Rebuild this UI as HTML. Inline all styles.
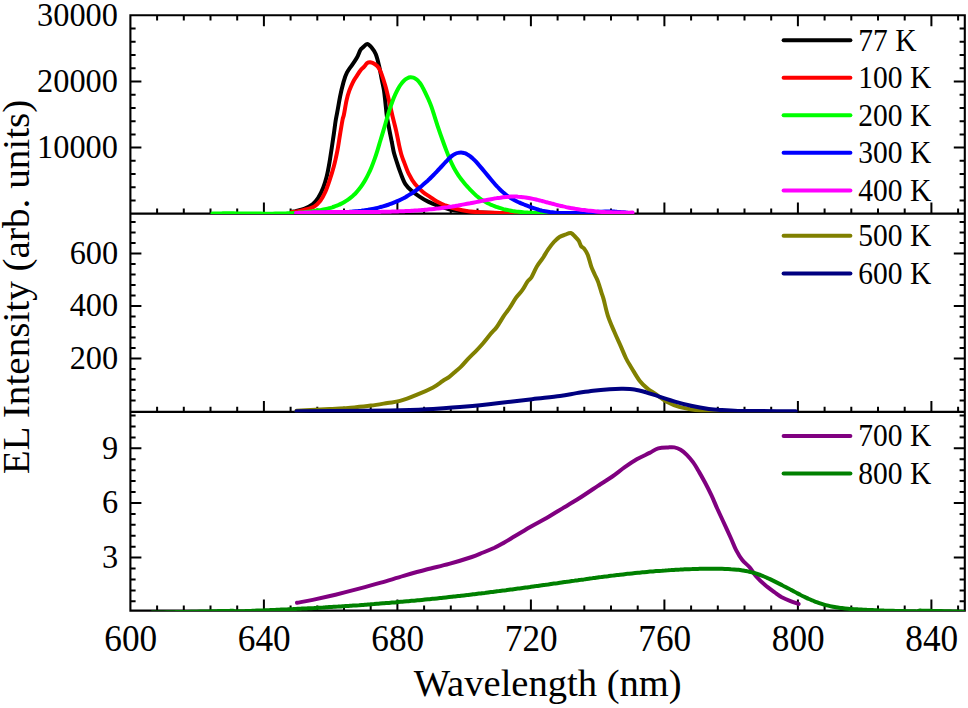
<!DOCTYPE html><html><head><meta charset="utf-8"><style>html,body{margin:0;padding:0;background:#fff;overflow:hidden}svg{display:block}text{font-family:"Liberation Serif",serif;fill:#000}</style></head><body>
<svg width="968" height="708" viewBox="0 0 968 708">
<rect width="968" height="708" fill="#fff"/>
<path d="M157.1,15.2V20.4M157.1,213.6V208.4M157.1,411.9V406.7M157.1,610.6V605.4M183.8,15.2V20.4M183.8,213.6V208.4M183.8,411.9V406.7M183.8,610.6V605.4M210.5,15.2V20.4M210.5,213.6V208.4M210.5,411.9V406.7M210.5,610.6V605.4M237.2,15.2V20.4M237.2,213.6V208.4M237.2,411.9V406.7M237.2,610.6V605.4M263.9,15.2V26.2M263.9,213.6V202.6M263.9,411.9V400.9M263.9,610.6V599.6M290.6,15.2V20.4M290.6,213.6V208.4M290.6,411.9V406.7M290.6,610.6V605.4M317.3,15.2V20.4M317.3,213.6V208.4M317.3,411.9V406.7M317.3,610.6V605.4M344.0,15.2V20.4M344.0,213.6V208.4M344.0,411.9V406.7M344.0,610.6V605.4M370.7,15.2V20.4M370.7,213.6V208.4M370.7,411.9V406.7M370.7,610.6V605.4M397.4,15.2V26.2M397.4,213.6V202.6M397.4,411.9V400.9M397.4,610.6V599.6M424.1,15.2V20.4M424.1,213.6V208.4M424.1,411.9V406.7M424.1,610.6V605.4M450.8,15.2V20.4M450.8,213.6V208.4M450.8,411.9V406.7M450.8,610.6V605.4M477.5,15.2V20.4M477.5,213.6V208.4M477.5,411.9V406.7M477.5,610.6V605.4M504.2,15.2V20.4M504.2,213.6V208.4M504.2,411.9V406.7M504.2,610.6V605.4M530.9,15.2V26.2M530.9,213.6V202.6M530.9,411.9V400.9M530.9,610.6V599.6M557.6,15.2V20.4M557.6,213.6V208.4M557.6,411.9V406.7M557.6,610.6V605.4M584.3,15.2V20.4M584.3,213.6V208.4M584.3,411.9V406.7M584.3,610.6V605.4M611.0,15.2V20.4M611.0,213.6V208.4M611.0,411.9V406.7M611.0,610.6V605.4M637.7,15.2V20.4M637.7,213.6V208.4M637.7,411.9V406.7M637.7,610.6V605.4M664.4,15.2V26.2M664.4,213.6V202.6M664.4,411.9V400.9M664.4,610.6V599.6M691.1,15.2V20.4M691.1,213.6V208.4M691.1,411.9V406.7M691.1,610.6V605.4M717.8,15.2V20.4M717.8,213.6V208.4M717.8,411.9V406.7M717.8,610.6V605.4M744.5,15.2V20.4M744.5,213.6V208.4M744.5,411.9V406.7M744.5,610.6V605.4M771.2,15.2V20.4M771.2,213.6V208.4M771.2,411.9V406.7M771.2,610.6V605.4M797.9,15.2V26.2M797.9,213.6V202.6M797.9,411.9V400.9M797.9,610.6V599.6M824.6,15.2V20.4M824.6,213.6V208.4M824.6,411.9V406.7M824.6,610.6V605.4M851.3,15.2V20.4M851.3,213.6V208.4M851.3,411.9V406.7M851.3,610.6V605.4M878.0,15.2V20.4M878.0,213.6V208.4M878.0,411.9V406.7M878.0,610.6V605.4M904.7,15.2V20.4M904.7,213.6V208.4M904.7,411.9V406.7M904.7,610.6V605.4M931.4,15.2V26.2M931.4,213.6V202.6M931.4,411.9V400.9M931.4,610.6V599.6M958.1,15.2V20.4M958.1,213.6V208.4M958.1,411.9V406.7M958.1,610.6V605.4M130.4,200.5H135.6M964.8,200.5H959.6M130.4,187.3H135.6M964.8,187.3H959.6M130.4,174.0H135.6M964.8,174.0H959.6M130.4,160.8H135.6M964.8,160.8H959.6M130.4,147.6H141.4M964.8,147.6H953.8M130.4,134.4H135.6M964.8,134.4H959.6M130.4,121.2H135.6M964.8,121.2H959.6M130.4,107.9H135.6M964.8,107.9H959.6M130.4,94.7H135.6M964.8,94.7H959.6M130.4,81.5H141.4M964.8,81.5H953.8M130.4,68.3H135.6M964.8,68.3H959.6M130.4,55.1H135.6M964.8,55.1H959.6M130.4,41.8H135.6M964.8,41.8H959.6M130.4,28.6H135.6M964.8,28.6H959.6M130.4,400.6H135.6M964.8,400.6H959.6M130.4,390.1H135.6M964.8,390.1H959.6M130.4,379.6H135.6M964.8,379.6H959.6M130.4,369.1H135.6M964.8,369.1H959.6M130.4,358.6H141.4M964.8,358.6H953.8M130.4,348.1H135.6M964.8,348.1H959.6M130.4,337.6H135.6M964.8,337.6H959.6M130.4,327.1H135.6M964.8,327.1H959.6M130.4,316.6H135.6M964.8,316.6H959.6M130.4,306.1H141.4M964.8,306.1H953.8M130.4,295.6H135.6M964.8,295.6H959.6M130.4,285.1H135.6M964.8,285.1H959.6M130.4,274.6H135.6M964.8,274.6H959.6M130.4,264.1H135.6M964.8,264.1H959.6M130.4,253.6H141.4M964.8,253.6H953.8M130.4,243.1H135.6M964.8,243.1H959.6M130.4,232.6H135.6M964.8,232.6H959.6M130.4,222.1H135.6M964.8,222.1H959.6M130.4,601.3H135.6M964.8,601.3H959.6M130.4,590.4H135.6M964.8,590.4H959.6M130.4,579.5H135.6M964.8,579.5H959.6M130.4,568.6H135.6M964.8,568.6H959.6M130.4,557.6H141.4M964.8,557.6H953.8M130.4,546.7H135.6M964.8,546.7H959.6M130.4,535.8H135.6M964.8,535.8H959.6M130.4,524.8H135.6M964.8,524.8H959.6M130.4,513.9H135.6M964.8,513.9H959.6M130.4,503.0H141.4M964.8,503.0H953.8M130.4,492.0H135.6M964.8,492.0H959.6M130.4,481.1H135.6M964.8,481.1H959.6M130.4,470.2H135.6M964.8,470.2H959.6M130.4,459.2H135.6M964.8,459.2H959.6M130.4,448.3H141.4M964.8,448.3H953.8M130.4,437.4H135.6M964.8,437.4H959.6M130.4,426.4H135.6M964.8,426.4H959.6M130.4,415.5H135.6M964.8,415.5H959.6" stroke="#000" stroke-width="2.0" fill="none"/>
<path d="M130.4,15.2H964.8V610.6H130.4Z M130.4,213.6H964.8 M130.4,411.9H964.8" stroke="#000" stroke-width="2.1" fill="none"/>
<defs>
<clipPath id="c0"><rect x="130.4" y="15.2" width="834.4" height="198.8"/></clipPath>
<clipPath id="c1"><rect x="130.4" y="213.6" width="834.4" height="198.7"/></clipPath>
<clipPath id="c2"><rect x="130.4" y="411.9" width="834.4" height="199.1"/></clipPath>
</defs>
<path d="M291.7,211.7 C292.4,211.6 293.5,211.5 295.6,211.1 C297.7,210.6 301.3,210.0 304.1,208.9 C306.9,207.8 310.2,206.3 312.6,204.4 C315.0,202.6 316.4,200.6 318.2,197.9 C320.0,195.1 321.8,191.4 323.2,187.8 C324.6,184.2 325.6,180.7 326.7,176.5 C327.8,172.3 328.7,167.1 329.5,162.4 C330.3,157.7 331.0,152.9 331.7,148.2 C332.4,143.5 333.1,138.6 333.8,134.1 C334.5,129.6 335.0,124.7 335.6,121.0 C336.2,117.3 336.6,116.0 337.3,111.9 C338.1,107.8 339.1,101.5 340.1,96.5 C341.1,91.5 342.4,86.1 343.5,82.1 C344.6,78.1 345.5,75.5 346.9,72.7 C348.3,69.9 350.3,67.6 352.0,65.1 C353.7,62.6 355.6,60.0 357.0,57.5 C358.4,55.0 359.4,51.6 360.4,49.9 C361.4,48.2 361.9,48.3 363.0,47.3 C364.1,46.3 365.8,43.9 367.2,43.9 C368.6,43.9 370.0,45.6 371.4,47.3 C372.8,49.0 374.4,51.0 375.7,54.1 C377.0,57.2 378.1,61.9 379.1,66.0 C380.1,70.1 380.8,74.6 381.6,78.7 C382.4,82.8 383.4,86.5 384.0,90.5 C384.6,94.5 384.9,98.1 385.4,102.4 C385.9,106.7 386.2,111.8 386.9,116.5 C387.6,121.2 388.7,126.3 389.5,130.6 C390.3,134.8 391.1,138.3 391.8,142.0 C392.6,145.7 393.1,149.6 394.0,153.0 C394.9,156.4 395.9,159.1 397.0,162.6 C398.1,166.1 399.5,170.3 400.9,173.9 C402.3,177.5 403.6,181.3 405.4,184.1 C407.2,186.9 409.2,188.7 411.6,190.8 C414.0,192.9 416.7,194.8 419.5,196.6 C422.3,198.5 425.4,200.4 428.6,201.9 C431.8,203.5 435.2,204.7 438.8,206.0 C442.4,207.2 446.3,208.6 450.1,209.5 C453.9,210.4 456.4,210.8 461.4,211.3 C466.4,211.8 470.2,212.2 480.0,212.5 C489.8,212.9 494.7,213.2 520.0,213.4 C545.3,213.5 613.3,213.5 632.0,213.6" stroke="#000000" fill="none" stroke-width="4.0" stroke-linejoin="round" stroke-linecap="round" clip-path="url(#c0)"/>
<path d="M291.7,211.9 C292.4,211.9 293.5,212.1 295.6,211.8 C297.7,211.5 301.0,210.8 304.1,209.9 C307.2,209.1 311.3,208.2 314.0,206.7 C316.7,205.2 318.5,203.2 320.4,200.8 C322.3,198.3 323.8,195.3 325.3,192.0 C326.8,188.7 328.1,184.9 329.5,180.7 C330.9,176.5 332.5,171.5 333.8,166.6 C335.1,161.7 336.2,156.5 337.3,151.1 C338.4,145.7 339.2,139.3 340.1,134.1 C341.0,128.9 341.9,123.2 342.5,120.0 C343.1,116.8 343.2,117.9 343.9,114.7 C344.6,111.5 345.6,104.6 346.5,100.6 C347.4,96.6 348.2,93.8 349.3,90.7 C350.4,87.7 351.7,84.7 352.9,82.3 C354.1,79.9 355.1,78.6 356.4,76.6 C357.7,74.6 359.3,71.9 360.6,70.3 C361.9,68.7 363.1,67.9 364.2,66.7 C365.3,65.5 366.0,63.9 367.0,63.2 C368.0,62.5 369.0,62.1 370.3,62.3 C371.6,62.5 373.6,63.3 375.0,64.2 C376.4,65.1 377.4,65.9 378.5,67.5 C379.6,69.1 380.4,70.8 381.5,73.9 C382.6,77.0 384.1,81.5 385.4,86.0 C386.7,90.5 387.9,95.9 389.1,101.0 C390.3,106.1 391.4,111.6 392.6,116.5 C393.8,121.4 395.0,125.9 396.1,130.6 C397.2,135.3 398.1,140.6 399.0,144.7 C399.9,148.8 400.6,152.0 401.5,155.0 C402.4,158.0 403.1,159.4 404.3,162.6 C405.5,165.8 407.0,170.3 408.8,173.9 C410.6,177.5 412.6,181.1 415.0,184.1 C417.4,187.1 420.4,189.9 422.9,192.0 C425.3,194.1 427.4,195.1 429.7,196.6 C432.0,198.2 433.9,199.8 436.5,201.3 C439.1,202.8 442.1,204.2 445.5,205.5 C448.9,206.7 453.0,208.0 456.8,209.0 C460.6,210.0 464.2,210.7 468.1,211.3 C472.0,211.8 474.7,212.0 480.0,212.3 C485.3,212.6 493.2,212.8 500.0,212.9 C506.8,213.1 498.8,213.3 520.8,213.4 C542.8,213.5 613.5,213.5 632.0,213.6" stroke="#ff0000" fill="none" stroke-width="4.0" stroke-linejoin="round" stroke-linecap="round" clip-path="url(#c0)"/>
<path d="M212.4,213.6 C212.9,213.6 214.4,213.5 215.4,213.5 C216.4,213.5 217.4,213.4 218.4,213.4 C219.4,213.4 220.4,213.4 221.4,213.4 C222.4,213.4 223.4,213.3 224.4,213.3 C225.4,213.3 226.4,213.3 227.4,213.3 C228.4,213.3 229.4,213.3 230.4,213.3 C231.4,213.3 232.4,213.3 233.4,213.3 C234.4,213.3 235.4,213.3 236.4,213.4 C237.4,213.4 238.4,213.4 239.4,213.4 C240.4,213.4 241.4,213.4 242.4,213.4 C243.4,213.4 244.4,213.4 245.4,213.5 C246.4,213.5 247.4,213.5 248.4,213.5 C249.4,213.5 250.4,213.5 251.4,213.5 C252.4,213.6 253.4,213.6 254.4,213.6 C255.4,213.6 256.4,213.6 257.4,213.6 C258.4,213.6 259.4,213.6 260.4,213.6 C261.4,213.7 262.4,213.7 263.4,213.7 C264.4,213.7 265.4,213.7 266.4,213.7 C267.4,213.7 268.4,213.7 269.4,213.7 C270.4,213.7 271.4,213.7 272.4,213.7 C273.4,213.7 274.4,213.7 275.4,213.6 C276.4,213.6 277.4,213.6 278.4,213.6 C279.4,213.6 280.4,213.6 281.4,213.5 C282.4,213.5 283.4,213.5 284.4,213.5 C285.4,213.4 286.4,213.4 287.4,213.3 C288.4,213.3 289.4,213.3 290.4,213.2 C291.4,213.2 292.4,213.1 293.4,213.1 C294.4,213.0 295.4,212.9 296.4,212.9 C297.4,212.8 298.4,212.7 299.4,212.6 C300.4,212.6 301.4,212.5 302.4,212.4 C303.4,212.3 304.4,212.2 305.4,212.1 C306.4,212.0 307.4,211.9 308.4,211.8 C309.4,211.7 310.4,211.5 311.4,211.4 C312.4,211.3 313.4,211.2 314.4,211.0 C315.4,210.9 316.4,210.7 317.4,210.6 C318.4,210.4 319.4,210.3 320.4,210.1 C321.4,209.9 322.4,209.7 323.4,209.5 C324.4,209.3 325.4,209.1 326.4,208.9 C327.4,208.7 328.4,208.4 329.4,208.1 C330.4,207.9 331.4,207.6 332.4,207.3 C333.4,206.9 334.4,206.6 335.4,206.2 C336.4,205.9 337.4,205.5 338.4,205.0 C339.4,204.6 340.4,204.1 341.4,203.6 C342.4,203.1 343.4,202.6 344.4,202.0 C345.4,201.4 346.4,200.8 347.4,200.1 C348.4,199.4 349.4,198.7 350.4,197.9 C351.4,197.1 352.4,196.3 353.4,195.3 C354.4,194.4 355.4,193.4 356.4,192.3 C357.4,191.2 358.4,190.1 359.4,188.8 C360.4,187.6 361.4,186.2 362.4,184.7 C363.4,183.2 364.4,181.6 365.4,179.8 C366.4,178.0 367.4,176.1 368.4,174.0 C369.4,172.0 370.4,169.8 371.4,167.4 C372.4,165.0 373.4,162.5 374.4,159.7 C375.4,156.9 376.4,153.8 377.4,150.6 C378.4,147.4 379.4,143.8 380.4,140.5 C381.4,137.1 382.4,134.0 383.4,130.6 C384.4,127.3 385.4,123.7 386.4,120.3 C387.4,116.9 388.4,113.3 389.4,110.2 C390.4,107.1 391.4,104.2 392.4,101.5 C393.4,98.8 394.4,96.4 395.4,94.2 C396.4,91.9 397.4,90.0 398.4,88.2 C399.4,86.4 400.4,84.9 401.4,83.6 C402.4,82.2 403.4,81.1 404.4,80.2 C405.4,79.3 406.4,78.7 407.4,78.2 C408.4,77.7 409.4,77.4 410.4,77.3 C411.4,77.2 412.4,77.4 413.4,77.7 C414.4,78.0 415.4,78.6 416.4,79.3 C417.4,80.1 418.4,81.1 419.4,82.4 C420.4,83.6 421.4,85.1 422.4,86.9 C423.4,88.6 424.4,90.7 425.4,92.8 C426.4,94.9 427.4,97.0 428.4,99.3 C429.4,101.6 430.4,103.9 431.4,106.7 C432.4,109.5 433.4,112.8 434.4,115.9 C435.4,119.0 436.4,122.2 437.4,125.3 C438.4,128.3 439.4,131.2 440.4,134.1 C441.4,136.9 442.4,139.7 443.4,142.5 C444.4,145.3 445.4,148.0 446.4,150.6 C447.4,153.2 448.4,155.8 449.4,158.2 C450.4,160.6 451.4,162.8 452.4,164.9 C453.4,167.0 454.4,168.9 455.4,170.6 C456.4,172.3 457.4,173.9 458.4,175.4 C459.4,176.9 460.4,178.2 461.4,179.5 C462.4,180.8 463.4,182.0 464.4,183.2 C465.4,184.4 466.4,185.5 467.4,186.6 C468.4,187.7 469.4,188.8 470.4,189.9 C471.4,190.9 472.4,191.9 473.4,192.9 C474.4,193.9 475.4,194.8 476.4,195.7 C477.4,196.5 478.4,197.3 479.4,198.1 C480.4,198.8 481.4,199.5 482.4,200.1 C483.4,200.7 484.4,201.3 485.4,201.9 C486.4,202.4 487.4,203.0 488.4,203.5 C489.4,204.0 490.4,204.4 491.4,204.9 C492.4,205.3 493.4,205.7 494.4,206.1 C495.4,206.5 496.4,206.9 497.4,207.2 C498.4,207.6 499.4,207.9 500.4,208.2 C501.4,208.5 502.4,208.8 503.4,209.1 C504.4,209.3 505.4,209.6 506.4,209.8 C507.4,210.0 508.4,210.2 509.4,210.4 C510.4,210.6 511.4,210.8 512.4,211.0 C513.4,211.1 514.4,211.3 515.4,211.4 C516.4,211.6 517.4,211.7 518.4,211.8 C519.4,211.9 520.4,212.0 521.4,212.1 C522.4,212.2 523.4,212.3 524.4,212.4 C525.4,212.5 526.4,212.5 527.4,212.6 C528.4,212.7 529.4,212.7 530.4,212.8 C531.4,212.8 532.4,212.9 533.4,212.9 C534.4,213.0 535.4,213.0 536.4,213.1 C537.4,213.1 538.4,213.2 539.4,213.2 C540.4,213.3 541.4,213.3 542.4,213.4 C543.4,213.4 544.4,213.5 545.4,213.5 C546.4,213.6 547.7,213.7 548.4,213.7 C549.1,213.8 549.2,213.8 549.4,213.8" stroke="#00ff00" fill="none" stroke-width="4.0" stroke-linejoin="round" stroke-linecap="round" clip-path="url(#c0)"/>
<path d="M296.0,213.6 C296.5,213.6 298.0,213.5 299.0,213.4 C300.0,213.3 301.0,213.3 302.0,213.2 C303.0,213.2 304.0,213.1 305.0,213.1 C306.0,213.0 307.0,213.0 308.0,213.0 C309.0,212.9 310.0,212.9 311.0,212.9 C312.0,212.9 313.0,212.8 314.0,212.8 C315.0,212.8 316.0,212.8 317.0,212.7 C318.0,212.7 319.0,212.7 320.0,212.7 C321.0,212.7 322.0,212.7 323.0,212.7 C324.0,212.6 325.0,212.6 326.0,212.6 C327.0,212.6 328.0,212.6 329.0,212.6 C330.0,212.5 331.0,212.5 332.0,212.5 C333.0,212.5 334.0,212.5 335.0,212.4 C336.0,212.4 337.0,212.4 338.0,212.4 C339.0,212.3 340.0,212.3 341.0,212.3 C342.0,212.2 343.0,212.2 344.0,212.1 C345.0,212.1 346.0,212.0 347.0,212.0 C348.0,211.9 349.0,211.9 350.0,211.8 C351.0,211.7 352.0,211.7 353.0,211.6 C354.0,211.5 355.0,211.4 356.0,211.3 C357.0,211.2 358.0,211.1 359.0,211.0 C360.0,210.9 361.0,210.8 362.0,210.6 C363.0,210.5 364.0,210.4 365.0,210.2 C366.0,210.1 367.0,209.9 368.0,209.8 C369.0,209.6 370.0,209.4 371.0,209.2 C372.0,209.0 373.0,208.8 374.0,208.6 C375.0,208.4 376.0,208.2 377.0,208.0 C378.0,207.7 379.0,207.5 380.0,207.2 C381.0,206.9 382.0,206.7 383.0,206.4 C384.0,206.1 385.0,205.8 386.0,205.5 C387.0,205.2 388.0,204.8 389.0,204.5 C390.0,204.1 391.0,203.8 392.0,203.4 C393.0,203.0 394.0,202.6 395.0,202.2 C396.0,201.8 397.0,201.4 398.0,200.9 C399.0,200.5 400.0,200.0 401.0,199.5 C402.0,199.0 403.0,198.5 404.0,198.0 C405.0,197.4 406.0,196.9 407.0,196.3 C408.0,195.7 409.0,195.1 410.0,194.4 C411.0,193.8 412.0,193.1 413.0,192.5 C414.0,191.8 415.0,191.1 416.0,190.4 C417.0,189.7 418.0,188.9 419.0,188.1 C420.0,187.3 421.0,186.5 422.0,185.7 C423.0,184.9 424.0,184.0 425.0,183.1 C426.0,182.2 427.0,181.3 428.0,180.4 C429.0,179.4 430.0,178.5 431.0,177.5 C432.0,176.5 433.0,175.5 434.0,174.5 C435.0,173.4 436.0,172.4 437.0,171.3 C438.0,170.3 439.0,169.2 440.0,168.1 C441.0,167.0 442.0,166.0 443.0,164.9 C444.0,163.8 445.0,162.7 446.0,161.6 C447.0,160.6 448.0,159.5 449.0,158.5 C450.0,157.6 451.0,156.7 452.0,155.9 C453.0,155.1 454.0,154.5 455.0,154.0 C456.0,153.5 457.0,153.1 458.0,152.9 C459.0,152.6 460.0,152.5 461.0,152.5 C462.0,152.5 463.0,152.7 464.0,153.0 C465.0,153.2 466.0,153.6 467.0,154.2 C468.0,154.7 469.0,155.4 470.0,156.1 C471.0,156.9 472.0,157.7 473.0,158.7 C474.0,159.6 475.0,160.6 476.0,161.7 C477.0,162.8 478.0,163.9 479.0,165.1 C480.0,166.2 481.0,167.4 482.0,168.6 C483.0,169.8 484.0,171.0 485.0,172.2 C486.0,173.5 487.0,174.7 488.0,175.9 C489.0,177.1 490.0,178.3 491.0,179.5 C492.0,180.7 493.0,181.9 494.0,183.0 C495.0,184.2 496.0,185.3 497.0,186.4 C498.0,187.4 499.0,188.5 500.0,189.5 C501.0,190.5 502.0,191.4 503.0,192.3 C504.0,193.1 505.0,194.0 506.0,194.7 C507.0,195.5 508.0,196.3 509.0,196.9 C510.0,197.6 511.0,198.2 512.0,198.8 C513.0,199.4 514.0,200.0 515.0,200.5 C516.0,201.0 517.0,201.5 518.0,202.0 C519.0,202.4 520.0,202.9 521.0,203.3 C522.0,203.7 523.0,204.1 524.0,204.5 C525.0,204.9 526.0,205.3 527.0,205.7 C528.0,206.1 529.0,206.5 530.0,206.9 C531.0,207.3 532.0,207.6 533.0,208.0 C534.0,208.3 535.0,208.6 536.0,208.9 C537.0,209.3 538.0,209.5 539.0,209.8 C540.0,210.1 541.0,210.3 542.0,210.6 C543.0,210.8 544.0,211.0 545.0,211.2 C546.0,211.4 547.0,211.6 548.0,211.7 C549.0,211.9 550.0,212.0 551.0,212.2 C552.0,212.3 553.0,212.4 554.0,212.5 C555.0,212.6 556.0,212.7 557.0,212.8 C558.0,212.9 559.0,212.9 560.0,213.0 C561.0,213.0 562.0,213.1 563.0,213.1 C564.0,213.1 565.0,213.1 566.0,213.1 C567.0,213.1 568.0,213.1 569.0,213.1 C570.0,213.1 571.0,213.1 572.0,213.1 C573.0,213.1 574.0,213.0 575.0,213.0 C576.0,213.0 577.0,212.9 578.0,212.9 C579.0,212.8 580.0,212.8 581.0,212.7 C582.0,212.7 583.0,212.6 584.0,212.6 C585.0,212.5 586.0,212.5 587.0,212.4 C588.0,212.4 589.0,212.3 590.0,212.2 C591.0,212.2 592.0,212.1 593.0,212.1 C594.0,212.0 595.0,212.0 596.0,211.9 C597.0,211.9 598.0,211.8 599.0,211.8 C600.0,211.7 601.0,211.7 602.0,211.7 C603.0,211.6 604.0,211.6 605.0,211.6 C606.0,211.6 607.0,211.6 608.0,211.6 C609.0,211.6 610.0,211.6 611.0,211.6 C612.0,211.6 613.0,211.6 614.0,211.6 C615.0,211.7 616.0,211.7 617.0,211.8 C618.0,211.8 619.0,211.9 620.0,212.0 C621.0,212.1 622.0,212.2 623.0,212.3 C624.0,212.4 625.0,212.5 626.0,212.6 C627.0,212.8 628.0,212.9 629.0,213.1 C630.0,213.3 631.5,213.6 632.0,213.7" stroke="#0000ff" fill="none" stroke-width="4.0" stroke-linejoin="round" stroke-linecap="round" clip-path="url(#c0)"/>
<path d="M296.1,213.0 C296.6,212.9 298.1,212.9 299.1,212.8 C300.1,212.8 301.1,212.7 302.1,212.7 C303.1,212.7 304.1,212.6 305.1,212.6 C306.1,212.6 307.1,212.5 308.1,212.5 C309.1,212.5 310.1,212.4 311.1,212.4 C312.1,212.4 313.1,212.4 314.1,212.3 C315.1,212.3 316.1,212.3 317.1,212.3 C318.1,212.3 319.1,212.3 320.1,212.2 C321.1,212.2 322.1,212.2 323.1,212.2 C324.1,212.2 325.1,212.2 326.1,212.2 C327.1,212.1 328.1,212.1 329.1,212.1 C330.1,212.1 331.1,212.1 332.1,212.1 C333.1,212.1 334.1,212.1 335.1,212.1 C336.1,212.1 337.1,212.1 338.1,212.1 C339.1,212.1 340.1,212.1 341.1,212.1 C342.1,212.1 343.1,212.1 344.1,212.1 C345.1,212.1 346.1,212.1 347.1,212.1 C348.1,212.1 349.1,212.0 350.1,212.0 C351.1,212.0 352.1,212.0 353.1,212.0 C354.1,212.0 355.1,212.0 356.1,212.0 C357.1,212.0 358.1,212.0 359.1,212.0 C360.1,212.0 361.1,212.0 362.1,212.0 C363.1,212.0 364.1,212.0 365.1,212.0 C366.1,212.0 367.1,212.0 368.1,212.0 C369.1,212.0 370.1,212.0 371.1,212.0 C372.1,212.0 373.1,212.0 374.1,211.9 C375.1,211.9 376.1,211.9 377.1,211.9 C378.1,211.9 379.1,211.9 380.1,211.9 C381.1,211.9 382.1,211.8 383.1,211.8 C384.1,211.8 385.1,211.8 386.1,211.8 C387.1,211.7 388.1,211.7 389.1,211.7 C390.1,211.7 391.1,211.6 392.1,211.6 C393.1,211.6 394.1,211.6 395.1,211.5 C396.1,211.5 397.1,211.5 398.1,211.4 C399.1,211.4 400.1,211.3 401.1,211.3 C402.1,211.3 403.1,211.2 404.1,211.2 C405.1,211.1 406.1,211.1 407.1,211.0 C408.1,211.0 409.1,210.9 410.1,210.9 C411.1,210.8 412.1,210.8 413.1,210.7 C414.1,210.6 415.1,210.6 416.1,210.5 C417.1,210.4 418.1,210.4 419.1,210.3 C420.1,210.2 421.1,210.1 422.1,210.0 C423.1,210.0 424.1,209.9 425.1,209.8 C426.1,209.7 427.1,209.6 428.1,209.5 C429.1,209.4 430.1,209.3 431.1,209.2 C432.1,209.1 433.1,209.0 434.1,208.9 C435.1,208.8 436.1,208.7 437.1,208.6 C438.1,208.4 439.1,208.3 440.1,208.2 C441.1,208.1 442.1,207.9 443.1,207.8 C444.1,207.7 445.1,207.5 446.1,207.4 C447.1,207.2 448.1,207.1 449.1,206.9 C450.1,206.8 451.1,206.6 452.1,206.5 C453.1,206.3 454.1,206.1 455.1,206.0 C456.1,205.8 457.1,205.6 458.1,205.5 C459.1,205.3 460.1,205.1 461.1,204.9 C462.1,204.8 463.1,204.6 464.1,204.4 C465.1,204.2 466.1,204.0 467.1,203.8 C468.1,203.6 469.1,203.4 470.1,203.3 C471.1,203.1 472.1,202.9 473.1,202.7 C474.1,202.5 475.1,202.3 476.1,202.1 C477.1,201.9 478.1,201.7 479.1,201.5 C480.1,201.3 481.1,201.1 482.1,200.9 C483.1,200.7 484.1,200.5 485.1,200.3 C486.1,200.1 487.1,200.0 488.1,199.8 C489.1,199.6 490.1,199.4 491.1,199.2 C492.1,199.0 493.1,198.8 494.1,198.6 C495.1,198.5 496.1,198.3 497.1,198.1 C498.1,198.0 499.1,197.8 500.1,197.7 C501.1,197.5 502.1,197.4 503.1,197.2 C504.1,197.1 505.1,197.0 506.1,196.9 C507.1,196.8 508.1,196.7 509.1,196.7 C510.1,196.6 511.1,196.6 512.1,196.5 C513.1,196.5 514.1,196.5 515.1,196.5 C516.1,196.6 517.1,196.6 518.1,196.7 C519.1,196.7 520.1,196.8 521.1,196.9 C522.1,197.0 523.1,197.1 524.1,197.3 C525.1,197.4 526.1,197.6 527.1,197.7 C528.1,197.9 529.1,198.1 530.1,198.3 C531.1,198.5 532.1,198.7 533.1,198.9 C534.1,199.1 535.1,199.3 536.1,199.5 C537.1,199.8 538.1,200.0 539.1,200.3 C540.1,200.5 541.1,200.8 542.1,201.0 C543.1,201.3 544.1,201.5 545.1,201.8 C546.1,202.1 547.1,202.3 548.1,202.6 C549.1,202.9 550.1,203.1 551.1,203.4 C552.1,203.7 553.1,203.9 554.1,204.2 C555.1,204.5 556.1,204.7 557.1,205.0 C558.1,205.2 559.1,205.5 560.1,205.7 C561.1,205.9 562.1,206.2 563.1,206.4 C564.1,206.6 565.1,206.8 566.1,207.1 C567.1,207.3 568.1,207.5 569.1,207.7 C570.1,207.9 571.1,208.0 572.1,208.2 C573.1,208.4 574.1,208.6 575.1,208.8 C576.1,208.9 577.1,209.1 578.1,209.2 C579.1,209.4 580.1,209.5 581.1,209.7 C582.1,209.8 583.1,210.0 584.1,210.1 C585.1,210.2 586.1,210.4 587.1,210.5 C588.1,210.6 589.1,210.7 590.1,210.8 C591.1,210.9 592.1,211.0 593.1,211.1 C594.1,211.2 595.1,211.3 596.1,211.4 C597.1,211.5 598.1,211.6 599.1,211.7 C600.1,211.7 601.1,211.8 602.1,211.9 C603.1,211.9 604.1,212.0 605.1,212.1 C606.1,212.1 607.1,212.2 608.1,212.2 C609.1,212.3 610.1,212.3 611.1,212.3 C612.1,212.4 613.1,212.4 614.1,212.5 C615.1,212.5 616.1,212.5 617.1,212.5 C618.1,212.6 619.1,212.6 620.1,212.6 C621.1,212.6 622.1,212.6 623.1,212.6 C624.1,212.6 625.1,212.7 626.1,212.7 C627.1,212.7 628.1,212.7 629.1,212.7 C630.1,212.6 631.5,212.6 632.1,212.6 C632.7,212.6 632.5,212.6 632.6,212.6" stroke="#ff00ff" fill="none" stroke-width="4.0" stroke-linejoin="round" stroke-linecap="round" clip-path="url(#c0)"/>
<path d="M296.5,410.8 C302.0,410.5 320.0,409.6 329.6,409.1 C339.2,408.5 347.5,408.0 354.4,407.4 C361.3,406.8 365.4,406.4 370.9,405.6 C376.4,404.9 382.5,403.8 387.4,403.0 C392.2,402.2 395.1,402.3 400.0,400.9 C404.9,399.6 411.0,397.2 416.5,394.9 C422.0,392.7 428.7,389.7 433.1,387.4 C437.5,385.1 439.9,382.8 442.7,381.0 C445.4,379.2 447.5,378.2 449.6,376.6 C451.7,375.0 453.6,373.2 455.5,371.5 C457.4,369.8 459.3,368.4 461.3,366.4 C463.3,364.4 465.3,361.8 467.6,359.4 C469.9,357.0 472.6,354.4 475.2,351.8 C477.8,349.2 480.3,346.5 482.9,343.5 C485.4,340.5 488.2,336.8 490.5,334.0 C492.8,331.2 494.7,329.9 496.8,327.0 C498.9,324.1 501.1,320.0 503.2,316.8 C505.3,313.6 507.5,311.2 509.6,308.0 C511.7,304.8 513.8,300.8 515.9,297.8 C518.0,294.8 520.4,292.9 522.3,290.2 C524.2,287.5 525.8,284.1 527.3,281.9 C528.8,279.7 529.9,279.8 531.5,277.2 C533.1,274.6 535.1,269.4 537.0,266.3 C538.9,263.2 540.7,261.2 542.6,258.4 C544.5,255.6 546.3,252.1 548.2,249.4 C550.1,246.7 552.0,244.1 553.9,242.0 C555.8,239.9 557.6,238.2 559.5,237.0 C561.4,235.8 563.3,235.4 565.2,234.7 C567.1,234.0 569.1,232.6 570.8,233.0 C572.5,233.4 574.1,235.7 575.4,237.0 C576.7,238.3 577.9,239.4 578.8,240.9 C579.7,242.4 580.1,244.7 581.0,246.0 C581.9,247.3 583.3,247.5 584.4,249.0 C585.5,250.5 586.7,252.1 587.8,255.0 C588.9,257.9 590.1,263.1 591.2,266.3 C592.3,269.5 593.5,271.6 594.6,274.2 C595.7,276.8 596.9,278.6 598.0,281.6 C599.1,284.6 600.5,289.4 601.4,292.3 C602.3,295.2 602.5,295.2 603.6,299.1 C604.7,303.0 606.1,310.4 607.9,315.8 C609.7,321.2 612.1,326.6 614.2,331.6 C616.3,336.6 618.6,341.4 620.6,345.9 C622.6,350.4 624.3,354.8 626.1,358.5 C627.9,362.2 629.4,364.3 631.6,368.0 C633.9,371.7 637.0,377.3 639.6,380.7 C642.2,384.1 644.9,386.4 647.5,388.6 C650.1,390.8 652.2,391.7 655.4,393.9 C658.6,396.1 662.5,399.5 666.5,401.7 C670.5,403.8 673.5,405.4 679.1,406.9 C684.7,408.4 693.2,409.9 700.0,410.7 C706.8,411.6 704.2,411.8 720.0,412.1 C735.8,412.4 782.5,412.3 795.0,412.4" stroke="#808000" fill="none" stroke-width="4.0" stroke-linejoin="round" stroke-linecap="round" clip-path="url(#c1)"/>
<path d="M296.5,411.3 C307.5,411.3 345.4,411.0 362.6,410.8 C379.9,410.6 388.2,410.5 400.0,410.2 C411.8,409.9 422.1,409.6 433.1,409.0 C444.1,408.3 455.1,407.6 466.1,406.6 C477.1,405.6 488.2,404.3 499.2,403.0 C510.2,401.8 522.1,400.4 532.2,399.2 C542.3,398.0 552.6,397.0 560.0,396.0 C567.4,395.0 571.0,394.0 576.5,393.1 C582.0,392.3 587.6,391.4 593.1,390.7 C598.6,390.0 604.9,389.5 609.6,389.2 C614.3,388.9 617.1,388.8 621.2,388.8 C625.3,388.9 630.3,388.9 634.4,389.5 C638.5,390.1 641.9,391.1 646.0,392.3 C650.1,393.5 654.2,395.0 659.2,396.6 C664.2,398.2 670.2,400.2 675.7,401.8 C681.2,403.4 686.7,404.8 692.2,406.0 C697.7,407.2 704.2,408.3 708.8,409.0 C713.4,409.6 715.1,409.7 720.0,410.0 C724.9,410.3 730.8,410.7 737.9,410.9 C745.0,411.1 753.0,411.1 762.6,411.1 C772.2,411.2 790.2,411.2 795.7,411.2" stroke="#000080" fill="none" stroke-width="4.0" stroke-linejoin="round" stroke-linecap="round" clip-path="url(#c1)"/>
<path d="M297.0,602.8 C299.6,602.3 306.3,601.2 312.7,599.9 C319.1,598.5 327.9,596.5 335.5,594.7 C343.1,592.8 350.6,590.9 358.2,588.9 C365.8,586.9 373.3,584.9 380.9,582.7 C388.5,580.5 396.0,578.1 403.6,575.9 C411.2,573.7 418.8,571.5 426.4,569.5 C434.0,567.5 441.5,566.0 449.1,563.9 C456.7,561.8 466.1,558.9 471.8,557.0 C477.5,555.1 479.4,554.0 483.2,552.5 C487.0,551.0 491.4,549.2 494.5,547.8 C497.6,546.3 498.5,545.8 502.0,543.8 C505.5,541.8 510.6,538.7 515.5,535.8 C520.4,532.9 525.9,529.5 531.1,526.5 C536.3,523.5 541.4,521.0 546.6,518.0 C551.8,515.0 556.9,511.7 562.1,508.6 C567.3,505.5 572.4,502.6 577.6,499.3 C582.8,496.0 589.5,491.5 593.2,489.0 C596.9,486.5 596.8,486.6 600.0,484.5 C603.2,482.4 608.3,479.4 612.4,476.5 C616.5,473.6 620.7,470.1 624.8,467.2 C628.9,464.3 633.1,461.5 637.2,459.1 C641.3,456.7 646.1,454.7 649.6,452.9 C653.1,451.1 655.2,449.2 658.3,448.3 C661.4,447.4 665.5,447.5 668.2,447.4 C670.9,447.2 672.3,447.0 674.4,447.4 C676.5,447.8 678.5,448.6 680.6,449.8 C682.7,451.0 684.7,452.7 686.8,454.8 C688.9,456.9 690.9,459.3 693.0,462.2 C695.1,465.1 697.1,468.6 699.2,472.1 C701.3,475.6 703.3,479.4 705.4,483.3 C707.5,487.2 709.6,491.5 711.6,495.7 C713.6,499.9 715.2,504.1 717.1,508.3 C719.0,512.5 720.7,516.0 723.0,521.0 C725.3,526.0 728.6,533.2 730.8,538.0 C733.0,542.8 734.1,546.3 736.0,549.9 C737.9,553.5 739.8,556.9 742.1,559.8 C744.4,562.7 747.3,564.6 749.6,567.3 C751.9,570.0 753.3,573.1 755.8,576.0 C758.3,578.9 761.4,581.9 764.5,584.6 C767.6,587.3 771.5,590.1 774.4,592.2 C777.3,594.3 779.1,595.8 781.8,597.3 C784.5,598.7 787.7,600.0 790.5,601.1 C793.3,602.2 797.2,603.5 798.6,604.0" stroke="#800080" fill="none" stroke-width="4.0" stroke-linejoin="round" stroke-linecap="round" clip-path="url(#c2)"/>
<path d="M152.0,612.6 C152.5,612.6 154.0,612.5 155.0,612.5 C156.0,612.5 157.0,612.5 158.0,612.5 C159.0,612.4 160.0,612.4 161.0,612.4 C162.0,612.4 163.0,612.4 164.0,612.4 C165.0,612.3 166.0,612.3 167.0,612.3 C168.0,612.3 169.0,612.3 170.0,612.2 C171.0,612.2 172.0,612.2 173.0,612.2 C174.0,612.2 175.0,612.1 176.0,612.1 C177.0,612.1 178.0,612.1 179.0,612.1 C180.0,612.0 181.0,612.0 182.0,612.0 C183.0,612.0 184.0,612.0 185.0,611.9 C186.0,611.9 187.0,611.9 188.0,611.9 C189.0,611.8 190.0,611.8 191.0,611.8 C192.0,611.8 193.0,611.8 194.0,611.7 C195.0,611.7 196.0,611.7 197.0,611.7 C198.0,611.6 199.0,611.6 200.0,611.6 C201.0,611.6 202.0,611.5 203.0,611.5 C204.0,611.5 205.0,611.5 206.0,611.4 C207.0,611.4 208.0,611.4 209.0,611.4 C210.0,611.3 211.0,611.3 212.0,611.3 C213.0,611.3 214.0,611.2 215.0,611.2 C216.0,611.2 217.0,611.1 218.0,611.1 C219.0,611.1 220.0,611.1 221.0,611.0 C222.0,611.0 223.0,611.0 224.0,610.9 C225.0,610.9 226.0,610.9 227.0,610.9 C228.0,610.8 229.0,610.8 230.0,610.8 C231.0,610.7 232.0,610.6 233.0,610.7 C234.0,610.8 235.0,611.3 236.0,611.4 C237.0,611.5 238.0,611.3 239.0,611.3 C240.0,611.2 241.0,611.2 242.0,611.2 C243.0,611.1 244.0,611.1 245.0,611.1 C246.0,611.0 247.0,611.0 248.0,611.0 C249.0,610.9 250.0,610.9 251.0,610.9 C252.0,610.8 253.0,610.8 254.0,610.7 C255.0,610.7 256.0,610.7 257.0,610.6 C258.0,610.6 259.0,610.6 260.0,610.5 C261.0,610.5 262.0,610.4 263.0,610.4 C264.0,610.4 265.0,610.3 266.0,610.3 C267.0,610.2 268.0,610.2 269.0,610.2 C270.0,610.1 271.0,610.1 272.0,610.0 C273.0,610.0 274.0,609.9 275.0,609.9 C276.0,609.9 277.0,609.8 278.0,609.8 C279.0,609.7 280.0,609.7 281.0,609.6 C282.0,609.6 283.0,609.5 284.0,609.5 C285.0,609.5 286.0,609.4 287.0,609.4 C288.0,609.3 289.0,609.3 290.0,609.2 C291.0,609.2 292.0,609.1 293.0,609.1 C294.0,609.0 295.0,609.0 296.0,608.9 C297.0,608.9 298.0,608.8 299.0,608.8 C300.0,608.7 301.0,608.7 302.0,608.6 C303.0,608.6 304.0,608.5 305.0,608.5 C306.0,608.4 307.0,608.4 308.0,608.3 C309.0,608.3 310.0,608.2 311.0,608.2 C312.0,608.1 313.0,608.0 314.0,608.0 C315.0,607.9 316.0,607.9 317.0,607.8 C318.0,607.8 319.0,607.7 320.0,607.7 C321.0,607.6 322.0,607.5 323.0,607.5 C324.0,607.4 325.0,607.4 326.0,607.3 C327.0,607.2 328.0,607.2 329.0,607.1 C330.0,607.1 331.0,607.0 332.0,606.9 C333.0,606.9 334.0,606.8 335.0,606.8 C336.0,606.7 337.0,606.6 338.0,606.6 C339.0,606.5 340.0,606.4 341.0,606.4 C342.0,606.3 343.0,606.3 344.0,606.2 C345.0,606.1 346.0,606.1 347.0,606.0 C348.0,605.9 349.0,605.9 350.0,605.8 C351.0,605.7 352.0,605.7 353.0,605.6 C354.0,605.5 355.0,605.4 356.0,605.4 C357.0,605.3 358.0,605.2 359.0,605.2 C360.0,605.1 361.0,605.0 362.0,604.9 C363.0,604.9 364.0,604.8 365.0,604.7 C366.0,604.7 367.0,604.6 368.0,604.5 C369.0,604.4 370.0,604.4 371.0,604.3 C372.0,604.2 373.0,604.1 374.0,604.1 C375.0,604.0 376.0,603.9 377.0,603.8 C378.0,603.7 379.0,603.7 380.0,603.6 C381.0,603.5 382.0,603.4 383.0,603.3 C384.0,603.3 385.0,603.2 386.0,603.1 C387.0,603.0 388.0,602.9 389.0,602.9 C390.0,602.8 391.0,602.7 392.0,602.6 C393.0,602.5 394.0,602.4 395.0,602.4 C396.0,602.3 397.0,602.2 398.0,602.1 C399.0,602.0 400.0,601.9 401.0,601.8 C402.0,601.7 403.0,601.7 404.0,601.6 C405.0,601.5 406.0,601.4 407.0,601.3 C408.0,601.2 409.0,601.1 410.0,601.0 C411.0,600.9 412.0,600.8 413.0,600.7 C414.0,600.7 415.0,600.6 416.0,600.5 C417.0,600.4 418.0,600.3 419.0,600.2 C420.0,600.1 421.0,600.0 422.0,599.9 C423.0,599.8 424.0,599.7 425.0,599.6 C426.0,599.5 427.0,599.4 428.0,599.3 C429.0,599.2 430.0,599.1 431.0,599.0 C432.0,598.9 433.0,598.8 434.0,598.7 C435.0,598.6 436.0,598.5 437.0,598.4 C438.0,598.3 439.0,598.2 440.0,598.1 C441.0,598.0 442.0,597.8 443.0,597.7 C444.0,597.6 445.0,597.5 446.0,597.4 C447.0,597.3 448.0,597.2 449.0,597.1 C450.0,597.0 451.0,596.9 452.0,596.8 C453.0,596.7 454.0,596.5 455.0,596.4 C456.0,596.3 457.0,596.2 458.0,596.1 C459.0,596.0 460.0,595.9 461.0,595.7 C462.0,595.6 463.0,595.5 464.0,595.4 C465.0,595.3 466.0,595.2 467.0,595.1 C468.0,594.9 469.0,594.8 470.0,594.7 C471.0,594.6 472.0,594.5 473.0,594.3 C474.0,594.2 475.0,594.1 476.0,594.0 C477.0,593.9 478.0,593.7 479.0,593.6 C480.0,593.5 481.0,593.4 482.0,593.2 C483.0,593.1 484.0,593.0 485.0,592.9 C486.0,592.7 487.0,592.6 488.0,592.5 C489.0,592.4 490.0,592.2 491.0,592.1 C492.0,592.0 493.0,591.9 494.0,591.7 C495.0,591.6 496.0,591.5 497.0,591.3 C498.0,591.2 499.0,591.1 500.0,590.9 C501.0,590.8 502.0,590.7 503.0,590.6 C504.0,590.4 505.0,590.3 506.0,590.2 C507.0,590.0 508.0,589.9 509.0,589.8 C510.0,589.7 511.0,589.5 512.0,589.4 C513.0,589.3 514.0,589.1 515.0,589.0 C516.0,588.9 517.0,588.7 518.0,588.6 C519.0,588.5 520.0,588.3 521.0,588.2 C522.0,588.1 523.0,587.9 524.0,587.8 C525.0,587.7 526.0,587.5 527.0,587.4 C528.0,587.3 529.0,587.1 530.0,587.0 C531.0,586.8 532.0,586.7 533.0,586.6 C534.0,586.4 535.0,586.3 536.0,586.1 C537.0,586.0 538.0,585.9 539.0,585.7 C540.0,585.6 541.0,585.4 542.0,585.3 C543.0,585.2 544.0,585.0 545.0,584.9 C546.0,584.7 547.0,584.6 548.0,584.5 C549.0,584.3 550.0,584.2 551.0,584.0 C552.0,583.9 553.0,583.7 554.0,583.6 C555.0,583.5 556.0,583.3 557.0,583.2 C558.0,583.0 559.0,582.9 560.0,582.7 C561.0,582.6 562.0,582.5 563.0,582.3 C564.0,582.2 565.0,582.0 566.0,581.9 C567.0,581.7 568.0,581.6 569.0,581.5 C570.0,581.3 571.0,581.2 572.0,581.0 C573.0,580.9 574.0,580.8 575.0,580.6 C576.0,580.5 577.0,580.3 578.0,580.2 C579.0,580.0 580.0,579.9 581.0,579.8 C582.0,579.6 583.0,579.5 584.0,579.4 C585.0,579.2 586.0,579.1 587.0,578.9 C588.0,578.8 589.0,578.7 590.0,578.5 C591.0,578.4 592.0,578.3 593.0,578.1 C594.0,578.0 595.0,577.9 596.0,577.7 C597.0,577.6 598.0,577.5 599.0,577.3 C600.0,577.2 601.0,577.1 602.0,576.9 C603.0,576.8 604.0,576.7 605.0,576.6 C606.0,576.4 607.0,576.3 608.0,576.2 C609.0,576.0 610.0,575.9 611.0,575.8 C612.0,575.7 613.0,575.6 614.0,575.4 C615.0,575.3 616.0,575.2 617.0,575.1 C618.0,575.0 619.0,574.8 620.0,574.7 C621.0,574.6 622.0,574.5 623.0,574.4 C624.0,574.3 625.0,574.1 626.0,574.0 C627.0,573.9 628.0,573.8 629.0,573.7 C630.0,573.6 631.0,573.5 632.0,573.4 C633.0,573.3 634.0,573.2 635.0,573.1 C636.0,573.0 637.0,572.9 638.0,572.8 C639.0,572.7 640.0,572.6 641.0,572.5 C642.0,572.4 643.0,572.3 644.0,572.2 C645.0,572.1 646.0,572.0 647.0,571.9 C648.0,571.8 649.0,571.7 650.0,571.6 C651.0,571.6 652.0,571.5 653.0,571.4 C654.0,571.3 655.0,571.2 656.0,571.1 C657.0,571.1 658.0,571.0 659.0,570.9 C660.0,570.8 661.0,570.7 662.0,570.7 C663.0,570.6 664.0,570.5 665.0,570.5 C666.0,570.4 667.0,570.3 668.0,570.3 C669.0,570.2 670.0,570.1 671.0,570.1 C672.0,570.0 673.0,569.9 674.0,569.9 C675.0,569.8 676.0,569.8 677.0,569.7 C678.0,569.7 679.0,569.6 680.0,569.6 C681.0,569.5 682.0,569.5 683.0,569.4 C684.0,569.4 685.0,569.3 686.0,569.3 C687.0,569.2 688.0,569.2 689.0,569.2 C690.0,569.1 691.0,569.1 692.0,569.1 C693.0,569.0 694.0,569.0 695.0,569.0 C696.0,568.9 697.0,568.9 698.0,568.9 C699.0,568.9 700.0,568.8 701.0,568.8 C702.0,568.8 703.0,568.8 704.0,568.8 C705.0,568.8 706.0,568.8 707.0,568.7 C708.0,568.7 709.0,568.7 710.0,568.7 C711.0,568.7 712.0,568.7 713.0,568.7 C714.0,568.7 715.0,568.7 716.0,568.7 C717.0,568.7 718.0,568.7 719.0,568.7 C720.0,568.8 721.0,568.8 722.0,568.8 C723.0,568.8 724.0,568.8 725.0,568.9 C726.0,568.9 727.0,569.0 728.0,569.0 C729.0,569.0 730.0,569.1 731.0,569.2 C732.0,569.2 733.0,569.3 734.0,569.4 C735.0,569.5 736.0,569.6 737.0,569.7 C738.0,569.8 739.0,569.9 740.0,570.0 C741.0,570.2 742.0,570.3 743.0,570.5 C744.0,570.7 745.0,570.8 746.0,571.0 C747.0,571.2 748.0,571.4 749.0,571.7 C750.0,571.9 751.0,572.1 752.0,572.4 C753.0,572.7 754.0,572.9 755.0,573.2 C756.0,573.5 757.0,573.9 758.0,574.2 C759.0,574.6 760.0,574.9 761.0,575.3 C762.0,575.7 763.0,576.1 764.0,576.5 C765.0,576.9 766.0,577.3 767.0,577.8 C768.0,578.2 769.0,578.7 770.0,579.1 C771.0,579.6 772.0,580.1 773.0,580.6 C774.0,581.1 775.0,581.6 776.0,582.1 C777.0,582.6 778.0,583.1 779.0,583.6 C780.0,584.1 781.0,584.6 782.0,585.1 C783.0,585.7 784.0,586.2 785.0,586.7 C786.0,587.2 787.0,587.8 788.0,588.3 C789.0,588.8 790.0,589.3 791.0,589.9 C792.0,590.4 793.0,590.9 794.0,591.5 C795.0,592.0 796.0,592.5 797.0,593.1 C798.0,593.6 799.0,594.1 800.0,594.6 C801.0,595.2 802.0,595.7 803.0,596.2 C804.0,596.7 805.0,597.1 806.0,597.6 C807.0,598.1 808.0,598.6 809.0,599.0 C810.0,599.5 811.0,599.9 812.0,600.3 C813.0,600.8 814.0,601.2 815.0,601.6 C816.0,602.0 817.0,602.3 818.0,602.7 C819.0,603.1 820.0,603.4 821.0,603.7 C822.0,604.0 823.0,604.3 824.0,604.6 C825.0,604.9 826.0,605.2 827.0,605.4 C828.0,605.7 829.0,605.9 830.0,606.1 C831.0,606.3 832.0,606.5 833.0,606.7 C834.0,606.9 835.0,607.1 836.0,607.2 C837.0,607.4 838.0,607.6 839.0,607.7 C840.0,607.8 841.0,608.0 842.0,608.1 C843.0,608.2 844.0,608.3 845.0,608.4 C846.0,608.5 847.0,608.6 848.0,608.7 C849.0,608.8 850.0,608.9 851.0,608.9 C852.0,609.0 853.0,609.1 854.0,609.2 C855.0,609.2 856.0,609.3 857.0,609.3 C858.0,609.4 859.0,609.5 860.0,609.5 C861.0,609.6 862.0,609.6 863.0,609.7 C864.0,609.7 865.0,609.8 866.0,609.8 C867.0,609.9 868.0,609.9 869.0,610.0 C870.0,610.0 871.0,610.1 872.0,610.1 C873.0,610.2 874.0,610.2 875.0,610.2 C876.0,610.3 877.0,610.3 878.0,610.4 C879.0,610.4 880.0,610.4 881.0,610.5 C882.0,610.5 883.0,610.5 884.0,610.6 C885.0,610.6 886.0,610.6 887.0,610.7 C888.0,610.7 889.0,610.7 890.0,610.7 C891.0,610.8 892.0,610.8 893.0,610.8 C894.0,610.9 895.0,610.9 896.0,610.9 C897.0,610.9 898.0,611.0 899.0,611.0 C900.0,611.0 901.0,611.0 902.0,611.1 C903.0,611.1 904.0,611.1 905.0,611.1 C906.0,611.1 907.0,611.2 908.0,611.2 C909.0,611.2 910.0,611.2 911.0,611.3 C912.0,611.3 913.0,611.3 914.0,611.3 C915.0,611.3 916.0,611.5 917.0,611.4 C918.0,611.3 919.0,610.7 920.0,610.6 C921.0,610.5 922.0,610.7 923.0,610.7 C924.0,610.7 925.0,610.7 926.0,610.8 C927.0,610.8 928.0,610.8 929.0,610.8 C930.0,610.8 931.0,610.9 932.0,610.9 C933.0,610.9 934.0,610.9 935.0,611.0 C936.0,611.0 937.0,611.0 938.0,611.0 C939.0,611.0 940.0,611.1 941.0,611.1 C942.0,611.1 943.0,611.1 944.0,611.2 C945.0,611.2 946.0,611.2 947.0,611.3 C948.0,611.3 949.0,611.3 950.0,611.3 C951.0,611.4 952.0,611.4 953.0,611.4 C954.0,611.5 955.0,611.5 956.0,611.5 C957.0,611.6 958.0,611.6 959.0,611.7 C960.0,611.7 961.2,611.7 962.0,611.8 C962.8,611.8 963.7,611.8 964.0,611.9" stroke="#008000" fill="none" stroke-width="4.0" stroke-linejoin="round" stroke-linecap="round" clip-path="url(#c2)"/>
<text transform="translate(117.90,25.60) scale(0.965,1)" font-size="33.5" text-anchor="end">30000</text>
<text transform="translate(117.90,91.70) scale(0.965,1)" font-size="33.5" text-anchor="end">20000</text>
<text transform="translate(117.90,157.80) scale(0.965,1)" font-size="33.5" text-anchor="end">10000</text>
<text transform="translate(118.10,263.80) scale(0.965,1)" font-size="33.5" text-anchor="end">600</text>
<text transform="translate(118.10,316.30) scale(0.965,1)" font-size="33.5" text-anchor="end">400</text>
<text transform="translate(118.10,368.80) scale(0.965,1)" font-size="33.5" text-anchor="end">200</text>
<text transform="translate(118.10,458.50) scale(0.965,1)" font-size="33.5" text-anchor="end">9</text>
<text transform="translate(118.10,513.16) scale(0.965,1)" font-size="33.5" text-anchor="end">6</text>
<text transform="translate(118.10,567.82) scale(0.965,1)" font-size="33.5" text-anchor="end">3</text>
<text transform="translate(130.70,650.80) scale(0.98,1.05)" font-size="36" text-anchor="middle">600</text>
<text transform="translate(264.20,650.80) scale(0.98,1.05)" font-size="36" text-anchor="middle">640</text>
<text transform="translate(397.70,650.80) scale(0.98,1.05)" font-size="36" text-anchor="middle">680</text>
<text transform="translate(531.20,650.80) scale(0.98,1.05)" font-size="36" text-anchor="middle">720</text>
<text transform="translate(664.70,650.80) scale(0.98,1.05)" font-size="36" text-anchor="middle">760</text>
<text transform="translate(798.20,650.80) scale(0.98,1.05)" font-size="36" text-anchor="middle">800</text>
<text transform="translate(931.70,650.80) scale(0.98,1.05)" font-size="36" text-anchor="middle">840</text>
<text transform="translate(547.75,696.30)" font-size="38.6" text-anchor="middle">Wavelength (nm)</text>
<text transform="translate(29.00,287.00) rotate(-90) scale(1.017,1)" font-size="38.5" text-anchor="middle">EL Intensity (arb. units)</text>
<path d="M783.6,40.2H850.4" stroke="#000000" stroke-width="4.0" stroke-linecap="round"/>
<text transform="translate(858.30,50.70) scale(1,1.06)" font-size="29.5">77 K</text>
<path d="M783.6,77.8H850.4" stroke="#ff0000" stroke-width="4.0" stroke-linecap="round"/>
<text transform="translate(858.30,88.25) scale(1,1.06)" font-size="29.5">100 K</text>
<path d="M783.6,115.3H850.4" stroke="#00ff00" stroke-width="4.0" stroke-linecap="round"/>
<text transform="translate(858.30,125.80) scale(1,1.06)" font-size="29.5">200 K</text>
<path d="M783.6,152.8H850.4" stroke="#0000ff" stroke-width="4.0" stroke-linecap="round"/>
<text transform="translate(858.30,163.35) scale(1,1.06)" font-size="29.5">300 K</text>
<path d="M783.6,190.4H850.4" stroke="#ff00ff" stroke-width="4.0" stroke-linecap="round"/>
<text transform="translate(858.30,200.90) scale(1,1.06)" font-size="29.5">400 K</text>
<path d="M783.6,235.7H850.4" stroke="#808000" stroke-width="4.0" stroke-linecap="round"/>
<text transform="translate(858.30,246.20) scale(1,1.06)" font-size="29.5">500 K</text>
<path d="M783.6,273.4H850.4" stroke="#000080" stroke-width="4.0" stroke-linecap="round"/>
<text transform="translate(858.30,283.90) scale(1,1.06)" font-size="29.5">600 K</text>
<path d="M783.6,435.9H850.4" stroke="#800080" stroke-width="4.0" stroke-linecap="round"/>
<text transform="translate(858.30,446.40) scale(1,1.06)" font-size="29.5">700 K</text>
<path d="M783.6,473.4H850.4" stroke="#008000" stroke-width="4.0" stroke-linecap="round"/>
<text transform="translate(858.30,483.90) scale(1,1.06)" font-size="29.5">800 K</text>
</svg></body></html>
